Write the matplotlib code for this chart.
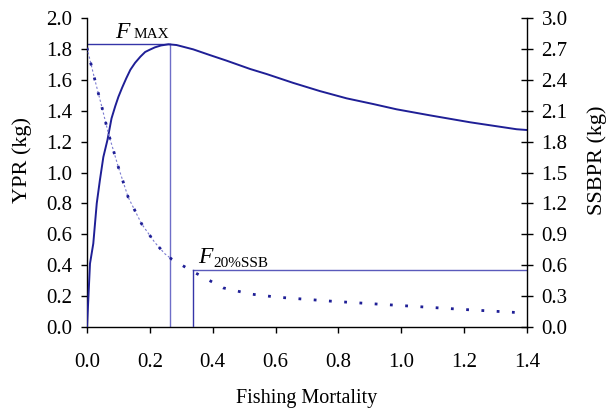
import matplotlib
matplotlib.use("Agg")
import matplotlib.pyplot as plt
import numpy as np

# ---- data ----
f_ypr = [0.0, 0.0095, 0.02, 0.031, 0.041, 0.052, 0.065, 0.078, 0.09, 0.10, 0.112,
         0.125, 0.138, 0.153, 0.17, 0.185, 0.2, 0.216, 0.235, 0.259, 0.285, 0.338,
         0.391, 0.444, 0.519, 0.572, 0.656, 0.741, 0.826, 0.911, 0.985, 1.091,
         1.219, 1.367, 1.40]
ypr = [0.0, 0.41, 0.54, 0.80, 0.95, 1.10, 1.21, 1.35, 1.43, 1.49, 1.55,
       1.61, 1.665, 1.71, 1.75, 1.78, 1.795, 1.81, 1.822, 1.83, 1.825, 1.797,
       1.76, 1.724, 1.67, 1.637, 1.58, 1.527, 1.48, 1.443, 1.409, 1.37,
       1.325, 1.28, 1.275]

f_ssb = [0.0, 0.025, 0.047, 0.068, 0.10, 0.131, 0.174, 0.216, 0.248, 0.269, 0.33,
         0.433, 0.52, 0.604, 0.78, 0.99, 1.2, 1.4]
ssbpr = [2.71, 2.40, 2.14, 1.88, 1.55, 1.26, 1.00, 0.82, 0.71, 0.66, 0.55,
         0.38, 0.32, 0.29, 0.25, 0.21, 0.17, 0.135]

f_max, ypr_max = 0.264, 1.83
f_20, ssb_20 = 0.338, 0.55

x_ticks = [0.0, 0.2, 0.4, 0.6, 0.8, 1.0, 1.2, 1.4]
y_left_ticks = [0.0, 0.2, 0.4, 0.6, 0.8, 1.0, 1.2, 1.4, 1.6, 1.8, 2.0]
y_right_ticks = [0.0, 0.3, 0.6, 0.9, 1.2, 1.5, 1.8, 2.1, 2.4, 2.7, 3.0]

# ---- style ----
plt.rcParams['font.family'] = ['Liberation Serif', 'DejaVu Serif']
FS = 15
dark = '#1f1f96'

fig = plt.figure(figsize=(6.08, 4.08), dpi=100)
ax = fig.add_axes([87/608, 1 - 327/408, 440/608, 309/408])
ax2 = ax.twinx()

ax.set_xlim(0, 1.4)
ax.set_ylim(0, 2.0)
ax2.set_ylim(0, 3.0)

# YPR curve
ax.plot(f_ypr, ypr, color=dark, lw=1.4, zorder=3)

# SSBPR curve: thin light dashed part + dark dots
f_ssb_a = np.array(f_ssb)
ssb_a = np.array(ssbpr)
m = f_ssb_a <= 0.27
ax2.plot(f_ssb_a[m], ssb_a[m], color='#7a7ad0', lw=0.8, ls=(0, (2, 2)), zorder=2)
ax2.plot(f_ssb, ssbpr, color=dark, lw=2.0, ls=(0, (1, 4.5)), zorder=3)

# reference lines
ax.plot([0, f_max], [ypr_max, ypr_max], color='#3535a8', lw=1.0, zorder=2)
ax.plot([f_max, f_max], [0, ypr_max], color='#6e6ec8', lw=1.0, zorder=2)
ax2.plot([f_20, 1.4], [ssb_20, ssb_20], color='#5a5abb', lw=1.0, zorder=2)
ax2.plot([f_20, f_20], [0, ssb_20], color='#3535a8', lw=1.0, zorder=2)

# annotations
ax.text(0.089, 1.87, 'F', fontsize=17, style='italic', ha='left', va='baseline')
ax.text(0.148, 1.87, 'MAX', fontsize=11, ha='left', va='baseline')
ax.text(0.352, 0.415, 'F', fontsize=17, style='italic', ha='left', va='baseline')
ax.text(0.403, 0.39, '20%SSB', fontsize=11, ha='left', va='baseline')

# spines
for a in (ax, ax2):
    a.spines['top'].set_visible(False)
ax.spines['right'].set_visible(False)
ax2.spines['left'].set_visible(False)
ax2.spines['bottom'].set_visible(False)
for s in ('left', 'bottom'):
    ax.spines[s].set_linewidth(1.0)
ax2.spines['right'].set_linewidth(1.0)

ax.set_xticks(x_ticks)
ax.set_xticklabels([f'{v:.1f}' for v in x_ticks])
ax.set_yticks(y_left_ticks)
ax.set_yticklabels([f'{v:.1f}' for v in y_left_ticks])
ax2.set_yticks(y_right_ticks)
ax2.set_yticklabels([f'{v:.1f}' for v in y_right_ticks])

ax.tick_params(axis='x', direction='out', length=4.5, width=1.0, pad=14, labelsize=FS)
ax.tick_params(axis='y', direction='out', length=4.5, width=1.0, pad=6, labelsize=FS)
ax2.tick_params(axis='y', direction='inout', length=9, width=1.0, pad=6, labelsize=FS)

ax.set_xlabel('Fishing Mortality', fontsize=14.5)
ax.xaxis.set_label_coords(0.5, -0.2)
ax.set_ylabel('YPR (kg)', fontsize=16)
ax.yaxis.set_label_coords(-0.125, 0.54)
ax2.set_ylabel('SSBPR (kg)', fontsize=16)
ax2.yaxis.set_label_coords(1.137, 0.54)

fig.savefig('out.png', dpi=100)
